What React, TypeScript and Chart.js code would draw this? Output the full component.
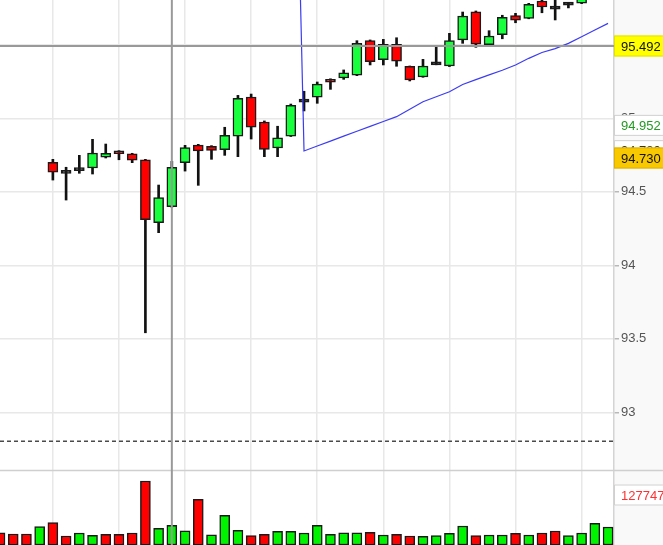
import React, { useEffect, useRef } from 'react';
import { Chart, registerables } from 'chart.js';

Chart.register(...registerables);

const FONT = "'Liberation Sans', Arial, sans-serif";

// ---- data (bar index 0..46) ----
const opens = [null, null, null, null,
  94.701, 94.628, 94.644, 94.662, 94.735, 94.778, 94.759, 94.718, 94.29, 94.399,
  94.698, 94.818, 94.81, 94.786, 94.878, 95.145, 94.975, 94.798, 94.878, 95.11,
  95.143, 95.252, 95.274, 95.293, 95.528, 95.399, 95.503, 95.354, 95.281, 95.364,
  95.356, 95.533, 95.725, 95.501, 95.569, 95.698, 95.68, 95.798, 95.745, 95.77,
  95.784, 95.85, 95.95];
const highs = [null, null, null, null,
  94.721, 94.667, 94.748, 94.857, 94.825, 94.78, 94.762, 94.721, 94.546, 94.707,
  94.816, 94.823, 94.814, 94.939, 95.156, 95.165, 94.982, 94.946, 95.097, 95.184,
  95.247, 95.269, 95.329, 95.528, 95.533, 95.537, 95.548, 95.356, 95.401, 95.492,
  95.578, 95.723, 95.73, 95.596, 95.701, 95.714, 95.782, 95.81, 95.82, 95.789,
  95.87, 95.98, 96.05];
const lows = [null, null, null, null,
  94.58, 94.444, 94.626, 94.621, 94.73, 94.718, 94.698, 93.541, 94.222, 94.395,
  94.641, 94.544, 94.721, 94.748, 94.739, 94.859, 94.739, 94.739, 94.876, 95.05,
  95.102, 95.197, 95.265, 95.29, 95.363, 95.363, 95.354, 95.254, 95.279, 95.364,
  95.352, 95.51, 95.483, 95.492, 95.541, 95.65, 95.677, 95.718, 95.669, 95.751,
  95.78, 95.84, 95.93];
const closes = [null, null, null, null,
  94.633, 94.625, 94.647, 94.764, 94.762, 94.759, 94.716, 94.31, 94.46, 94.667,
  94.8, 94.778, 94.782, 94.884, 95.136, 94.939, 94.789, 94.868, 95.088, 95.112,
  95.233, 95.245, 95.31, 95.51, 95.385, 95.503, 95.388, 95.261, 95.356, 95.366,
  95.528, 95.696, 95.505, 95.56, 95.687, 95.667, 95.776, 95.757, 95.743, 95.772,
  95.85, 95.95, 96.02];
const volumes = [
  31400, 28100, 28100, 46800, 57000, 23000, 30700, 24800, 27300, 27300,
  30700, 163500, 42700, 50300, 36500, 116800, 26300, 75900, 37600, 23800,
  27300, 35000, 35000, 30700, 50300, 27300, 31400, 31400, 32400, 25600,
  27300, 23000, 22200, 23800, 29900, 48500, 23800, 25600, 25600, 29900,
  25600, 30700, 35800, 23800, 30700, 55400, 46000];
const volumeUp = [
  0, 0, 0, 1, 0, 0, 1, 1, 0, 0,
  0, 0, 1, 1, 1, 0, 1, 1, 1, 0,
  0, 1, 1, 1, 1, 1, 1, 1, 0, 1,
  0, 0, 1, 1, 1, 1, 0, 1, 1, 0,
  1, 0, 0, 1, 1, 1, 1];
const trendLine = [null, null, null, null, null, null, null, null, null, null,
  null, null, null, null, null, null, null, null, null, null,
  null, null, 98.6, 94.778, 94.812, 94.845, 94.879, 94.912, 94.945, 94.978,
  95.011, 95.062, 95.113, 95.147, 95.181, 95.23, 95.263, 95.295, 95.327, 95.363,
  95.408, 95.448, 95.474, 95.51, 95.555, 95.601, 95.646];

const priceTicks = [93, 93.5, 94, 94.5, 95, 95.5];
const gridBars = [4, 9, 14, 19, 24, 29, 34, 39, 44];
const crosshairBar = 13;
const crosshairPrice = 95.492;
const dashedPrice = 92.803;
const volumeLabelValue = 127747;
const volumePaneTop = 191625;

// ---- view ----
const X_MIN = 0;
const X_MAX = 46.45;
const P_MIN = 92.0973;
const P_MAX = 95.8048;
const V_MAX = 1392475;

const GREEN = '#17ff3d';
const RED = '#ff0000';
const VGREEN = '#00f400';
const DARK = '#1a1a1a';

function tag(ctx, left, right, y, text, fill, stroke, color) {
  const h = 21;
  ctx.fillStyle = fill;
  ctx.fillRect(left, y - h / 2, right - left, h);
  if (stroke) {
    ctx.strokeStyle = stroke;
    ctx.lineWidth = 1;
    ctx.strokeRect(left + 0.5, y - h / 2 + 0.5, right - left, h - 1);
  }
  ctx.fillStyle = color;
  ctx.font = `13px ${FONT}`;
  ctx.textBaseline = 'middle';
  ctx.textAlign = 'left';
  ctx.fillText(text, left + 7, y + 1);
}

const overlay = {
  id: 'overlay',
  beforeDraw(chart) {
    const { ctx, chartArea, width, height } = chart;
    ctx.save();
    ctx.fillStyle = '#f9f9f9';
    ctx.fillRect(chartArea.right, 0, width - chartArea.right, height);
    ctx.restore();
  },
  afterDatasetsDraw(chart) {
    const { ctx, chartArea, width } = chart;
    const x = chart.scales.x;
    const y = chart.scales.y;
    const yv = chart.scales.yv;
    ctx.save();
    // pane divider
    const py = Math.round(yv.getPixelForValue(volumePaneTop)) + 0.5;
    ctx.strokeStyle = '#cfcfcf';
    ctx.lineWidth = 1.5;
    ctx.beginPath();
    ctx.moveTo(0, py);
    ctx.lineTo(width, py);
    ctx.stroke();
    // dashed line
    const dy = y.getPixelForValue(dashedPrice);
    ctx.strokeStyle = '#4a4a4a';
    ctx.lineWidth = 1.5;
    ctx.setLineDash([4, 3]);
    ctx.beginPath();
    ctx.moveTo(chartArea.left, dy);
    ctx.lineTo(chartArea.right, dy);
    ctx.stroke();
    ctx.setLineDash([]);
    // crosshair
    ctx.strokeStyle = '#999999';
    ctx.lineWidth = 2;
    const cx = x.getPixelForValue(crosshairBar);
    ctx.beginPath();
    ctx.moveTo(cx, chartArea.top);
    ctx.lineTo(cx, chartArea.bottom);
    ctx.stroke();
    const cy = y.getPixelForValue(crosshairPrice);
    ctx.beginPath();
    ctx.moveTo(chartArea.left, cy);
    ctx.lineTo(chartArea.right, cy);
    ctx.stroke();
    ctx.restore();
  },
  afterDraw(chart) {
    const { ctx, chartArea, width } = chart;
    const y = chart.scales.y;
    const yv = chart.scales.yv;
    const L = chartArea.right;
    ctx.save();
    tag(ctx, L, width, y.getPixelForValue(94.952), '94.952', '#ffffff', '#d0d0d0', '#229922');
    tag(ctx, L, width, y.getPixelForValue(94.78), '94.780', '#ffffff', '#d0d0d0', '#333333');
    tag(ctx, L, width, y.getPixelForValue(94.73), '94.730', '#f8c800', '#e0b000', '#111111');
    tag(ctx, L, width, y.getPixelForValue(crosshairPrice), crosshairPrice.toFixed(3), '#ffff00', '#e2e200', '#111111');
    tag(ctx, L, width, yv.getPixelForValue(volumeLabelValue), String(volumeLabelValue), '#ffffff', '#d0d0d0', '#ff3030');
    ctx.restore();
  },
};

export default function App() {
  const ref = useRef(null);
  useEffect(() => {
    const idx = volumes.map((_, i) => i);
    const candleIdx = idx.filter((i) => opens[i] != null);
    const bodyColor = (i) => {
      const o = opens[i];
      const c = closes[i];
      if (Math.abs(c - o) < 0.005) return DARK;
      return c >= o ? GREEN : RED;
    };
    const chart = new Chart(ref.current, {
      type: 'bar',
      data: {
        datasets: [
          {
            type: 'line',
            data: idx.filter((i) => trendLine[i] != null).map((i) => ({ x: i, y: trendLine[i] })),
            yAxisID: 'y',
            borderColor: '#3c3cf2',
            borderWidth: 1.2,
            pointRadius: 0,
            tension: 0,
            order: 0,
          },
          {
            data: candleIdx.map((i) => ({ x: i, y: [opens[i], closes[i]] })),
            yAxisID: 'y',
            backgroundColor: candleIdx.map(bodyColor),
            borderColor: DARK,
            borderWidth: 1.5,
            borderSkipped: false,
            barThickness: 10,
            minBarLength: 3,
            grouped: false,
            order: 1,
          },
          {
            data: candleIdx.map((i) => ({ x: i, y: [lows[i], highs[i]] })),
            yAxisID: 'y',
            backgroundColor: '#111111',
            borderWidth: 0,
            barThickness: 2,
            grouped: false,
            order: 2,
          },
          {
            data: idx.map((i) => ({ x: i, y: volumes[i] })),
            yAxisID: 'yv',
            backgroundColor: idx.map((i) => (volumeUp[i] ? VGREEN : RED)),
            borderColor: DARK,
            borderWidth: 1.5,
            borderSkipped: false,
            barThickness: 10,
            grouped: false,
            order: 3,
          },
        ],
      },
      options: {
        responsive: false,
        animation: false,
        devicePixelRatio: 1,
        layout: { padding: 0 },
        plugins: { legend: { display: false }, tooltip: { enabled: false } },
        scales: {
          x: {
            type: 'linear',
            min: X_MIN,
            max: X_MAX,
            offset: false,
            afterBuildTicks: (s) => {
              s.ticks = gridBars.map((v) => ({ value: v }));
            },
            afterFit: (s) => {
              s.paddingLeft = 0;
              s.paddingRight = 0;
            },
            ticks: { display: false },
            grid: { color: '#e8e8e8', lineWidth: 1.5, drawTicks: false, offset: false },
            border: { display: false },
          },
          y: {
            type: 'linear',
            position: 'right',
            min: P_MIN,
            max: P_MAX,
            afterBuildTicks: (s) => {
              s.ticks = priceTicks.map((v) => ({ value: v }));
            },
            afterFit: (s) => {
              s.width = 49;
              s.paddingTop = 0;
              s.paddingBottom = 0;
            },
            ticks: {
              color: '#555555',
              font: { family: FONT, size: 13 },
              padding: 2,
              callback: (v) => String(v),
            },
            grid: { color: '#e8e8e8', lineWidth: 1.5, tickColor: '#b8b8b8', tickLength: 5 },
            border: { color: '#d4d4d4', width: 1.5 },
          },
          yv: {
            type: 'linear',
            position: 'left',
            display: false,
            min: 0,
            max: V_MAX,
          },
        },
      },
      plugins: [overlay],
    });
    return () => chart.destroy();
  }, []);
  return (
    <div style={{ position: 'absolute', left: 0, top: 0, width: 663, height: 545, background: '#ffffff' }}>
      <canvas ref={ref} width={663} height={545} style={{ display: 'block', width: 663, height: 545 }} />
    </div>
  );
}
